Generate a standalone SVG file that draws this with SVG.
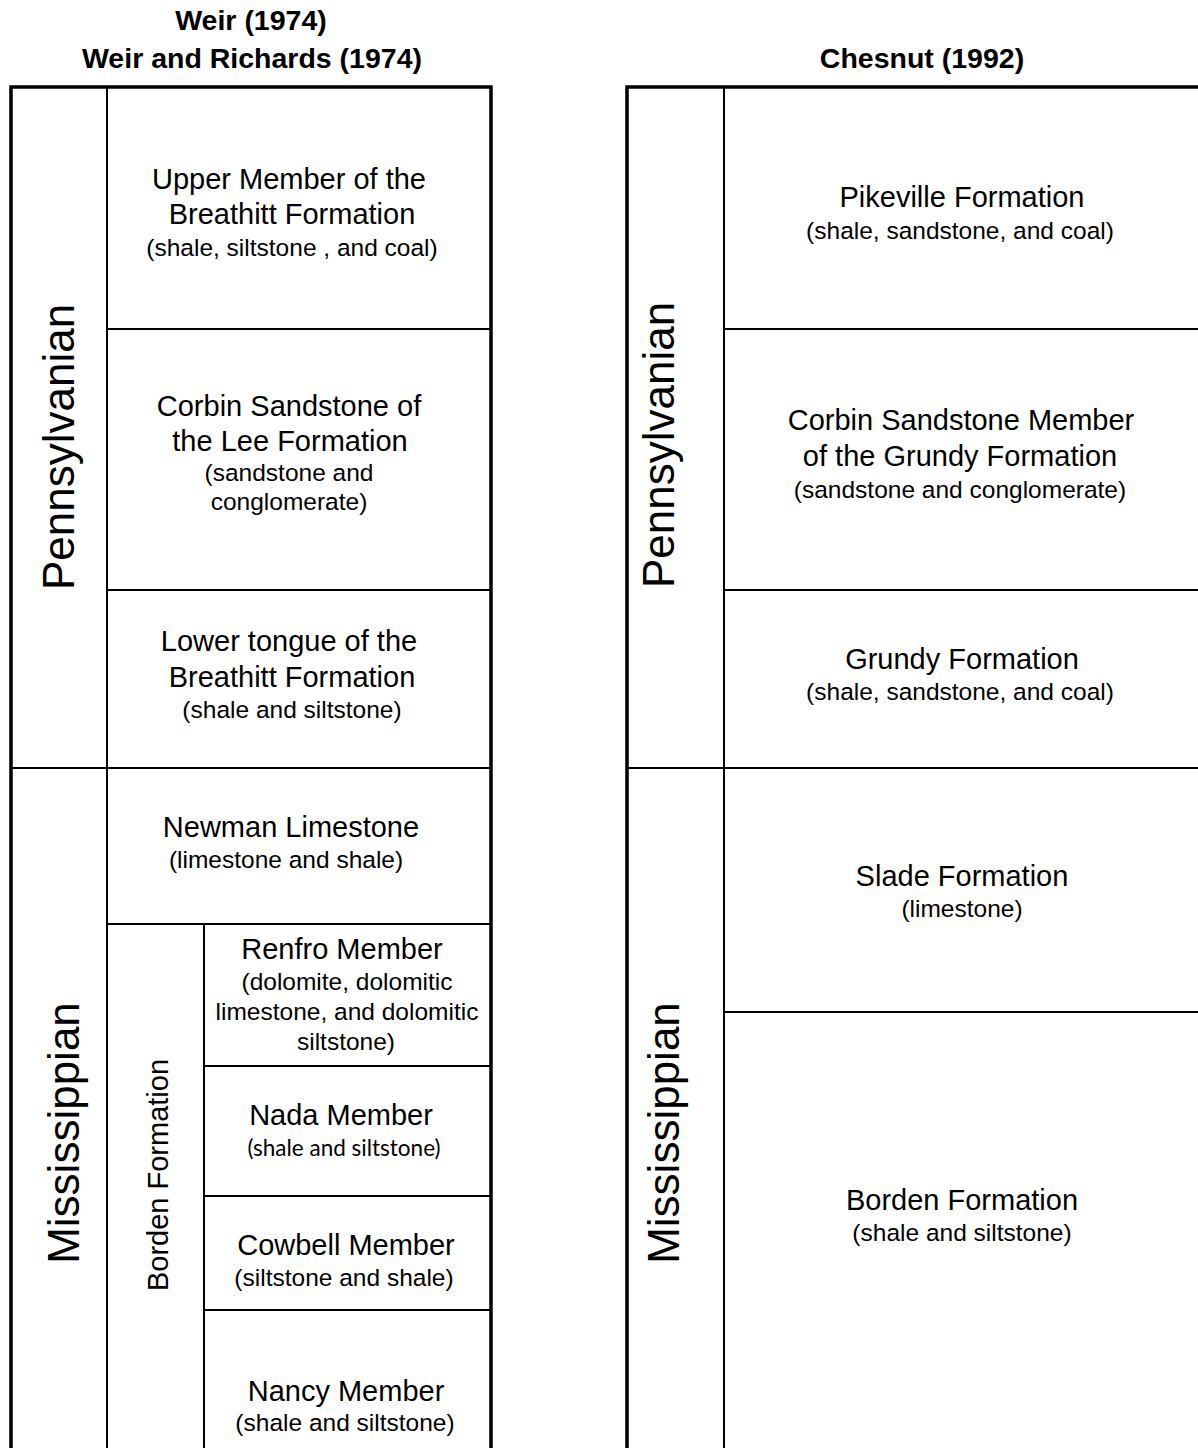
<svg xmlns="http://www.w3.org/2000/svg" width="1198" height="1448" viewBox="0 0 1198 1448">
<style>
.hdr{font-family:"Liberation Sans",Arial,sans-serif;font-weight:bold;font-size:28.5px;text-anchor:middle;fill:#000}
.t{font-family:"Liberation Sans",Arial,sans-serif;font-size:29px;text-anchor:middle;fill:#000}
.s{font-family:"Liberation Sans",Arial,sans-serif;font-size:24.5px;text-anchor:middle;fill:#000}
.c{font-family:Lato,"Liberation Sans",sans-serif;font-size:22.5px;text-anchor:middle;fill:#000}
.big{font-family:"Liberation Sans",Arial,sans-serif;font-size:44px;text-anchor:middle;fill:#000}
.mid{font-family:"Liberation Sans",Arial,sans-serif;font-size:29px;text-anchor:middle;fill:#000}
.outer{stroke:#000;stroke-width:3.5;fill:none}
.inner{stroke:#000;stroke-width:2;fill:none}
</style>
<rect width="1198" height="1448" fill="#fff"/>
<g id="headers">
<text class="hdr" x="251" y="30">Weir (1974)</text>
<text class="hdr" x="252" y="68">Weir and Richards (1974)</text>
<text class="hdr" x="922" y="68">Chesnut (1992)</text>
</g>
<g id="grid-left">
<line class="inner" x1="107" y1="87" x2="107" y2="1448"/>
<line class="inner" x1="107" y1="329" x2="491" y2="329"/>
<line class="inner" x1="107" y1="590" x2="491" y2="590"/>
<line class="inner" x1="11" y1="768" x2="491" y2="768"/>
<line class="inner" x1="107" y1="924" x2="491" y2="924"/>
<line class="inner" x1="204" y1="924" x2="204" y2="1448"/>
<line class="inner" x1="204" y1="1066" x2="491" y2="1066"/>
<line class="inner" x1="204" y1="1196" x2="491" y2="1196"/>
<line class="inner" x1="204" y1="1310" x2="491" y2="1310"/>
<path class="outer" d="M11,1448 V87 H491 V1448"/>
</g>
<g id="grid-right">
<line class="inner" x1="724" y1="87" x2="724" y2="1448"/>
<line class="inner" x1="724" y1="329" x2="1198" y2="329"/>
<line class="inner" x1="724" y1="590" x2="1198" y2="590"/>
<line class="inner" x1="627" y1="768" x2="1198" y2="768"/>
<line class="inner" x1="724" y1="1012" x2="1198" y2="1012"/>
<path class="outer" d="M627,1448 V87 H1200"/>
</g>
<g id="connectors"></g>
<g id="L-pennsylvanian"><text class="big" transform="translate(74,447) rotate(-90)">Pennsylvanian</text></g>
<g id="L-mississippian"><text class="big" transform="translate(79,1133) rotate(-90)">Mississippian</text></g>
<g id="L-borden"><text class="mid" transform="translate(168,1175) rotate(-90)">Borden Formation</text></g>
<g id="L-upper">
<text class="t" x="289" y="189">Upper Member of the</text>
<text class="t" x="292" y="224">Breathitt Formation</text>
<text class="s" x="292" y="256">(shale, siltstone , and coal)</text>
</g>
<g id="L-corbin">
<text class="t" x="289" y="416">Corbin Sandstone of</text>
<text class="t" x="290" y="451">the Lee Formation</text>
<text class="s" x="289" y="481">(sandstone and</text>
<text class="s" x="289" y="510">conglomerate)</text>
</g>
<g id="L-lower">
<text class="t" x="289" y="651">Lower tongue of the</text>
<text class="t" x="292" y="687">Breathitt Formation</text>
<text class="s" x="292" y="718">(shale and siltstone)</text>
</g>
<g id="L-newman">
<text class="t" x="291" y="837">Newman Limestone</text>
<text class="s" x="286" y="868">(limestone and shale)</text>
</g>
<g id="L-renfro">
<text class="t" x="342" y="959">Renfro Member</text>
<text class="s" x="347" y="990">(dolomite, dolomitic</text>
<text class="s" x="347" y="1020">limestone, and dolomitic</text>
<text class="s" x="346" y="1050">siltstone)</text>
</g>
<g id="L-nada">
<text class="t" x="341" y="1125">Nada Member</text>
<text class="c" x="344" y="1156">(shale and siltstone)</text>
</g>
<g id="L-cowbell">
<text class="t" x="346" y="1255">Cowbell Member</text>
<text class="s" x="344" y="1286">(siltstone and shale)</text>
</g>
<g id="L-nancy">
<text class="t" x="346" y="1401">Nancy Member</text>
<text class="s" x="345" y="1431">(shale and siltstone)</text>
</g>
<g id="R-pennsylvanian"><text class="big" transform="translate(674,445) rotate(-90)">Pennsylvanian</text></g>
<g id="R-mississippian"><text class="big" transform="translate(679,1133) rotate(-90)">Mississippian</text></g>
<g id="R-pikeville">
<text class="t" x="962" y="207">Pikeville Formation</text>
<text class="s" x="960" y="239">(shale, sandstone, and coal)</text>
</g>
<g id="R-corbin">
<text class="t" x="961" y="430">Corbin Sandstone Member</text>
<text class="t" x="960" y="466">of the Grundy Formation</text>
<text class="s" x="960" y="498">(sandstone and conglomerate)</text>
</g>
<g id="R-grundy">
<text class="t" x="962" y="669">Grundy Formation</text>
<text class="s" x="960" y="700">(shale, sandstone, and coal)</text>
</g>
<g id="R-slade">
<text class="t" x="962" y="886">Slade Formation</text>
<text class="s" x="962" y="917">(limestone)</text>
</g>
<g id="R-borden">
<text class="t" x="962" y="1210">Borden Formation</text>
<text class="s" x="962" y="1241">(shale and siltstone)</text>
</g>
</svg>
